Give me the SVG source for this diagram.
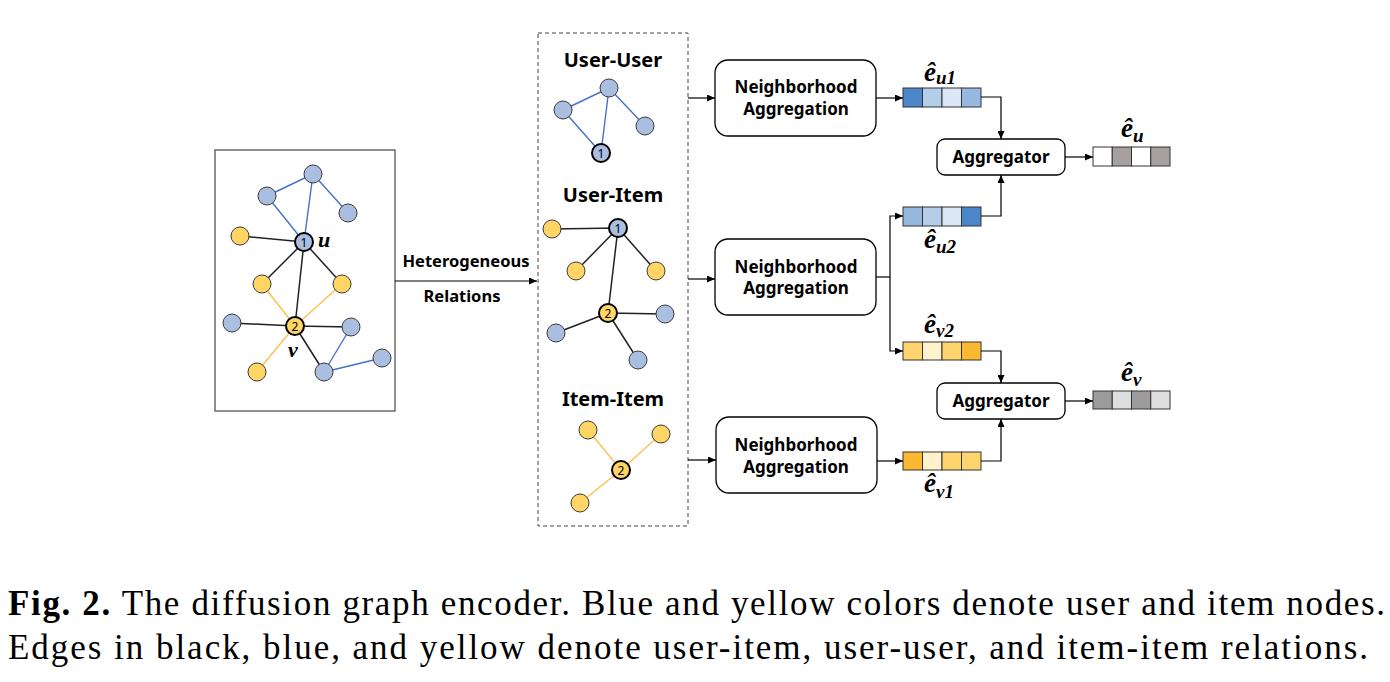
<svg xmlns="http://www.w3.org/2000/svg" width="1390" height="682" viewBox="0 0 1390 682">
<defs>
<marker id="ah" viewBox="0 0 8 7" refX="8" refY="3.5" markerWidth="8" markerHeight="7" markerUnits="userSpaceOnUse" orient="auto"><path d="M0,0 L8,3.5 L0,7 z" fill="#000"/></marker>
<style>
.lbl{font-family:"Noto Sans","Open Sans","DejaVu Sans",sans-serif;font-weight:bold;fill:#000;text-anchor:middle}
.t18{font-size:20px}
.t17{font-size:17px}
.t16{font-size:16.5px}
.ub{fill:#AABEE0;stroke:#3a3a3a;stroke-width:1}
.yi{fill:#FFD566;stroke:#3a3a3a;stroke-width:1}
.key{stroke:#000;stroke-width:2}
.num{font-family:"Noto Sans","Open Sans",sans-serif;font-size:12px;fill:#000;text-anchor:middle}
.eb{stroke:#4472C4;stroke-width:1.4;fill:none}
.ey{stroke:#FFC04A;stroke-width:1.4;fill:none}
.ek{stroke:#222;stroke-width:1.5;fill:none}
.box{fill:#fff;stroke:#000;stroke-width:1.3}
.conn{stroke:#000;stroke-width:1.2;fill:none}
.arr{marker-end:url(#ah)}
.cell{stroke:#333;stroke-width:1}
.math{font-family:"Liberation Serif","DejaVu Serif",serif;font-weight:bold;font-style:italic;fill:#000}
.cap{font-family:"Liberation Serif","DejaVu Serif",serif;font-size:35px;fill:#000}
</style>
</defs>

<!-- left heterogeneous graph -->
<g id="full-graph">
<rect x="215" y="150" width="180" height="261" fill="#fff" stroke="#555" stroke-width="1.3"/>
<g class="edges">
<path class="eb" d="M313,174 L267,196 M313,174 L348,213 M313,174 L304,242 M267,196 L304,242 M351,327 L324,372 M324,372 L382,358"/>
<path class="ek" d="M240,236 L304,242 M304,242 L262,284 M304,242 L342,284 M304,242 L295,326 M295,326 L232,323 M295,326 L351,327 M295,326 L324,372"/>
<path class="ey" d="M295,326 L262,284 M295,326 L342,284 M295,326 L257,372"/>
</g>
<circle class="ub" cx="313" cy="174" r="9"/>
<circle class="ub" cx="267" cy="196" r="9"/>
<circle class="ub" cx="348" cy="213" r="9"/>
<circle class="yi" cx="240" cy="236" r="9"/>
<circle class="yi" cx="262" cy="284" r="9"/>
<circle class="yi" cx="342" cy="284" r="9"/>
<circle class="ub" cx="232" cy="323" r="9"/>
<circle class="ub" cx="351" cy="327" r="9"/>
<circle class="ub" cx="382" cy="358" r="9"/>
<circle class="ub" cx="324" cy="372" r="9"/>
<circle class="yi" cx="257" cy="372" r="9"/>
<circle class="ub key" cx="304" cy="242" r="9"/>
<text class="num" x="304" y="246.5">1</text>
<circle class="yi key" cx="295" cy="326" r="9"/>
<text class="num" x="295" y="330.5">2</text>
<text class="math" x="318" y="247" font-size="22">u</text>
<text class="math" x="288" y="357" font-size="22">v</text>
</g>

<!-- relations container -->
<g id="relations">
<rect x="538" y="33" width="150" height="493" fill="none" stroke="#444" stroke-width="1" stroke-dasharray="4,3"/>
</g>

<g id="user-user">
<text class="lbl t18" x="613" y="67">User-User</text>
<path class="eb" d="M609,88 L563,110 M609,88 L645,126 M609,88 L601,153 M563,110 L601,153"/>
<circle class="ub" cx="609" cy="88" r="9"/>
<circle class="ub" cx="563" cy="110" r="9"/>
<circle class="ub" cx="645" cy="126" r="9"/>
<circle class="ub key" cx="601" cy="153" r="9"/>
<text class="num" x="601" y="157.5">1</text>
</g>

<g id="user-item">
<text class="lbl t18" x="613" y="202">User-Item</text>
<path class="ek" d="M618,228 L552,229 M618,228 L576,271 M618,228 L656,271 M618,228 L608,313 M608,313 L665,314 M608,313 L556,333 M608,313 L638,360"/>
<circle class="yi" cx="552" cy="229" r="9"/>
<circle class="yi" cx="576" cy="271" r="9"/>
<circle class="yi" cx="656" cy="271" r="9"/>
<circle class="ub" cx="665" cy="314" r="9"/>
<circle class="ub" cx="556" cy="333" r="9"/>
<circle class="ub" cx="638" cy="360" r="9"/>
<circle class="ub key" cx="618" cy="228" r="9"/>
<text class="num" x="618" y="232.5">1</text>
<circle class="yi key" cx="608" cy="313" r="9"/>
<text class="num" x="608" y="317.5">2</text>
</g>

<g id="item-item">
<text class="lbl t18" x="613" y="406">Item-Item</text>
<path class="ey" d="M621,470 L588,430 M621,470 L661,434 M621,470 L580,503"/>
<circle class="yi" cx="588" cy="430" r="9"/>
<circle class="yi" cx="661" cy="434" r="9"/>
<circle class="yi" cx="580" cy="503" r="9"/>
<circle class="yi key" cx="621" cy="470" r="9"/>
<text class="num" x="621" y="474.5">2</text>
</g>

<g id="na1">
<rect class="box" x="715" y="60" width="161" height="76" rx="13"/>
<text class="lbl t17" x="796" y="93">Neighborhood</text>
<text class="lbl t17" x="796" y="115">Aggregation</text>
</g>
<g id="na2">
<rect class="box" x="715" y="239" width="161" height="76" rx="13"/>
<text class="lbl t17" x="796" y="273">Neighborhood</text>
<text class="lbl t17" x="796" y="294">Aggregation</text>
</g>
<g id="na3">
<rect class="box" x="716" y="417" width="161" height="76" rx="13"/>
<text class="lbl t17" x="796" y="451">Neighborhood</text>
<text class="lbl t17" x="796" y="473">Aggregation</text>
</g>

<g id="agg-u">
<rect class="box" x="937" y="139" width="128" height="36" rx="8"/>
<text class="lbl t17" x="1001" y="163">Aggregator</text>
</g>
<g id="agg-v">
<rect class="box" x="937" y="383" width="128" height="36" rx="8"/>
<text class="lbl t17" x="1001" y="407">Aggregator</text>
</g>

<g id="vec-eu1">
<rect class="cell" x="903" y="88" width="19.5" height="19" fill="#4A86C8"/>
<rect class="cell" x="922.5" y="88" width="19.5" height="19" fill="#B4CDE9"/>
<rect class="cell" x="942" y="88" width="19.5" height="19" fill="#DCE7F5"/>
<rect class="cell" x="961.5" y="88" width="19.5" height="19" fill="#97B9E0"/>
<text class="math" x="924" y="81" font-size="27">ê<tspan font-size="19" dy="3">u1</tspan></text>
</g>
<g id="vec-eu2">
<rect class="cell" x="903" y="207" width="19.5" height="19" fill="#97B9E0"/>
<rect class="cell" x="922.5" y="207" width="19.5" height="19" fill="#B4CDE9"/>
<rect class="cell" x="942" y="207" width="19.5" height="19" fill="#DCE7F5"/>
<rect class="cell" x="961.5" y="207" width="19.5" height="19" fill="#4A86C8"/>
<text class="math" x="924" y="248" font-size="27">ê<tspan font-size="19" dy="5">u2</tspan></text>
</g>
<g id="vec-ev2">
<rect class="cell" x="903" y="342" width="19.5" height="18" fill="#FED46E"/>
<rect class="cell" x="922.5" y="342" width="19.5" height="18" fill="#FFF2CC"/>
<rect class="cell" x="942" y="342" width="19.5" height="18" fill="#FED46E"/>
<rect class="cell" x="961.5" y="342" width="19.5" height="18" fill="#FBB932"/>
<text class="math" x="924" y="333" font-size="27">ê<tspan font-size="19" dy="4">v2</tspan></text>
</g>
<g id="vec-ev1">
<rect class="cell" x="903" y="452" width="19.5" height="18" fill="#FBB932"/>
<rect class="cell" x="922.5" y="452" width="19.5" height="18" fill="#FFF2CC"/>
<rect class="cell" x="942" y="452" width="19.5" height="18" fill="#FED46E"/>
<rect class="cell" x="961.5" y="452" width="19.5" height="18" fill="#FED46E"/>
<text class="math" x="924" y="492" font-size="27">ê<tspan font-size="19" dy="6">v1</tspan></text>
</g>
<g id="vec-eu">
<rect class="cell" x="1093" y="147" width="19.25" height="19" fill="#fff"/>
<rect class="cell" x="1112.25" y="147" width="19.25" height="19" fill="#A6A0A0"/>
<rect class="cell" x="1131.5" y="147" width="19.25" height="19" fill="#fff"/>
<rect class="cell" x="1150.75" y="147" width="19.25" height="19" fill="#A6A0A0"/>
<text class="math" x="1121" y="137" font-size="27">ê<tspan font-size="19" dy="5">u</tspan></text>
</g>
<g id="vec-ev">
<rect class="cell" x="1093" y="391" width="19.25" height="18" fill="#9C9C9C"/>
<rect class="cell" x="1112.25" y="391" width="19.25" height="18" fill="#DEDEDE"/>
<rect class="cell" x="1131.5" y="391" width="19.25" height="18" fill="#9C9C9C"/>
<rect class="cell" x="1150.75" y="391" width="19.25" height="18" fill="#DEDEDE"/>
<text class="math" x="1121" y="381" font-size="27">ê<tspan font-size="19" dy="5">v</tspan></text>
</g>

<g id="connectors">
<path class="conn arr" d="M395,281 H537"/>
<path class="conn arr" d="M688,98 H715"/>
<path class="conn arr" d="M688,279 H715"/>
<path class="conn arr" d="M688,460 H716"/>
<path class="conn arr" d="M876,98 H903"/>
<path class="conn arr" d="M981,97 H1001 V139"/>
<path class="conn arr" d="M1065,157 H1093"/>
<path class="conn arr" d="M981,216 H1001 V175"/>
<path class="conn" d="M876,277 H890"/>
<path class="conn arr" d="M890,277 V216 H903"/>
<path class="conn arr" d="M890,277 V351 H903"/>
<path class="conn arr" d="M981,351 H1001 V383"/>
<path class="conn arr" d="M1065,401 H1093"/>
<path class="conn arr" d="M877,461 H903"/>
<path class="conn arr" d="M981,461 H1001 V419"/>
<text class="lbl t16" x="466" y="267">Heterogeneous</text>
<text class="lbl t16" x="462" y="302">Relations</text>
</g>

<g id="caption">
<text class="cap" x="8" y="615" textLength="1377" lengthAdjust="spacing"><tspan font-weight="bold">Fig. 2.</tspan> The diffusion graph encoder. Blue and yellow colors denote user and item nodes.</text>
<text class="cap" x="8" y="659" textLength="1360" lengthAdjust="spacing">Edges in black, blue, and yellow denote user-item, user-user, and item-item relations.</text>
</g>
</svg>
